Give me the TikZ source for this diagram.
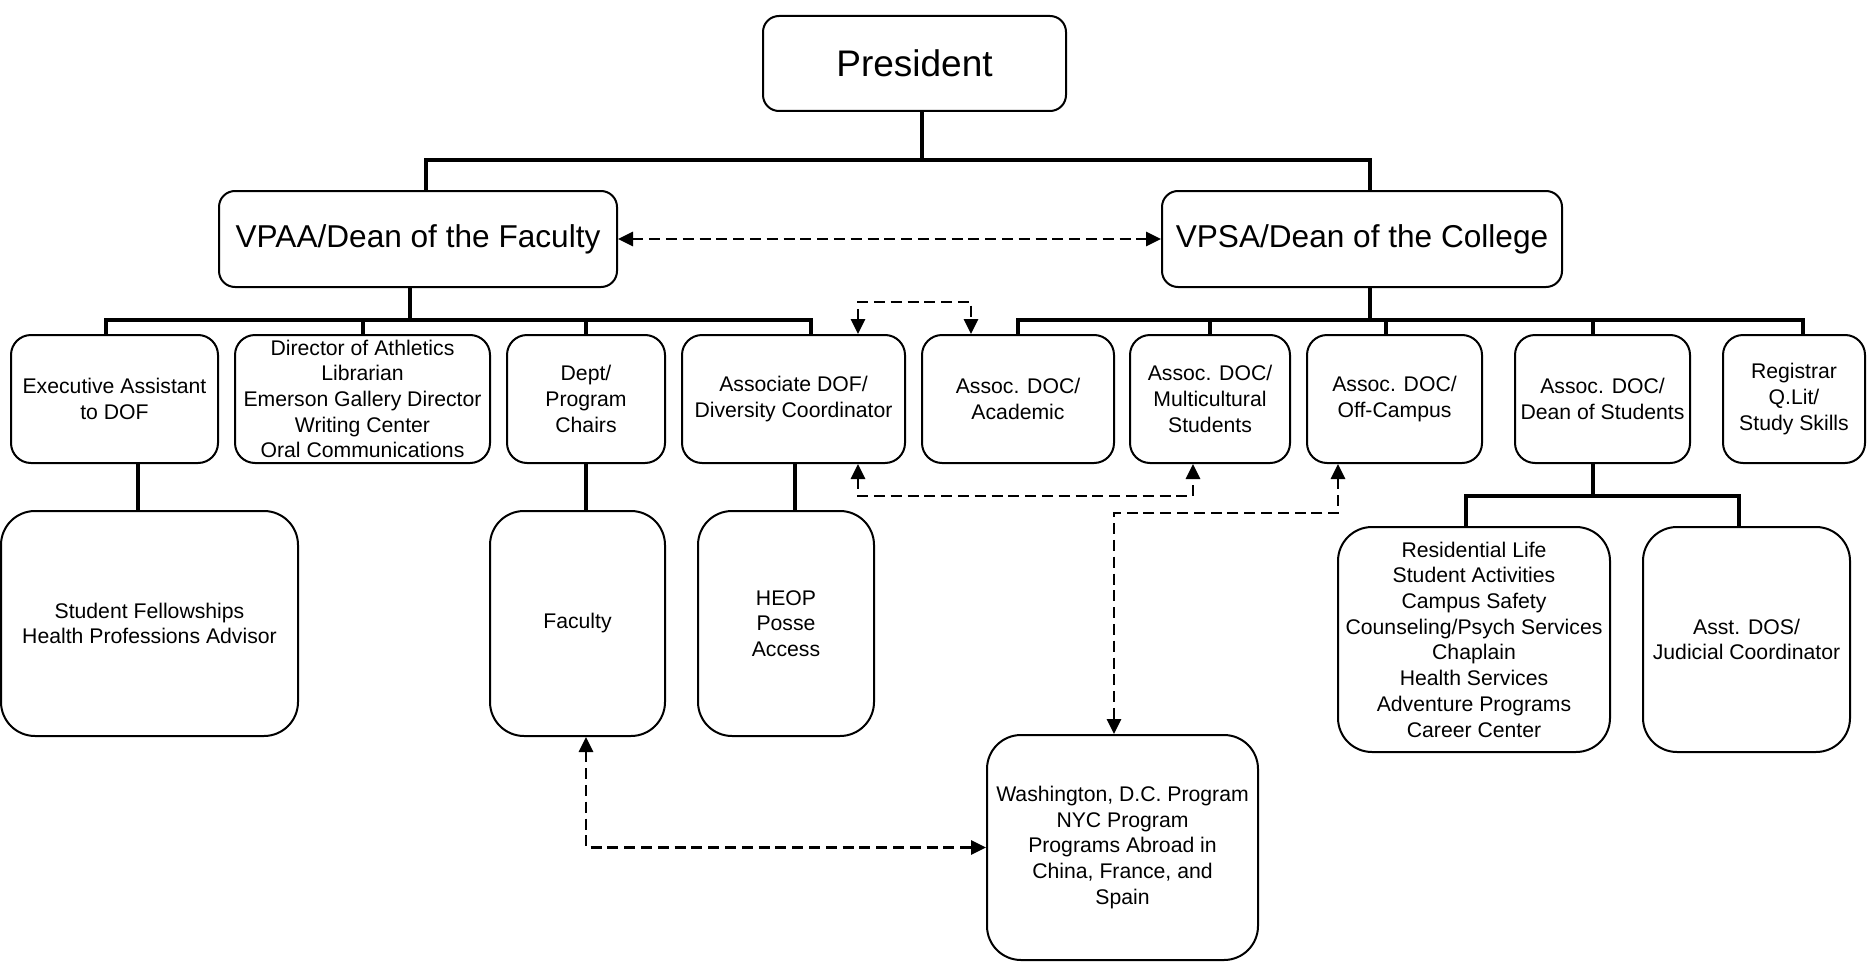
\documentclass[tikz,border=0pt]{standalone}
\usepackage{fontspec}
\setmainfont{Liberation Sans}
\usetikzlibrary{arrows.meta}
\tikzset{
 box/.style={draw, line width=1pt, rounded corners=10pt, inner sep=0pt, align=center, font=\fontsize{10.6}{12.85}\selectfont},
 tall/.style={box, rounded corners=17pt},
 big/.style={box, rounded corners=8pt, font=\fontsize{15.8}{19}\selectfont},
 wh/.style 2 args={minimum width=#1*0.5pt, minimum height=#2*0.5pt},
 bus/.style={line width=2pt},
 dsh/.style={line width=1.4pt, dash pattern=on 5.5pt off 2.9pt, {Triangle[length=7.5pt,width=7pt]}-{Triangle[length=7.5pt,width=7pt]}},
}
\begin{document}
\begin{tikzpicture}[x=0.5pt,y=-0.5pt]
\useasboundingbox (0,0) rectangle (1867,963);
% nodes
\node[big, wh={303}{95}, font=\fontsize{18.5}{22}\selectfont] (pres) at (914.5,63.5) {President};
\node[big, wh={398}{96}] (vpaa) at (418,239) {VPAA/Dean of the Faculty};
\node[big, wh={400}{96}] (vpsa) at (1362,239) {VPSA/Dean of the College};
\node[box, wh={207}{128}] (exec) at (114.5,399) {Executive Assistant\\to DOF};
\node[box, wh={255}{128}] (dir) at (362.5,399) {Director of Athletics\\Librarian\\Emerson Gallery Director\\Writing Center\\Oral Communications};
\node[box, wh={158}{128}] (dept) at (586,399) {Dept/\\Program\\Chairs};
\node[box, wh={223}{128}] (dof) at (793.5,399) {Associate DOF/\\Diversity Coordinator};
\node[box, wh={192}{128}] (acad) at (1018,399) {Assoc. DOC/\\Academic};
\node[box, wh={160}{128}] (multi) at (1210,399) {Assoc. DOC/\\Multicultural\\Students};
\node[box, wh={175}{128}] (off) at (1394.5,399) {Assoc. DOC/\\Off-Campus};
\node[box, wh={175}{128}] (dos) at (1602.5,399) {Assoc. DOC/\\Dean of Students};
\node[box, wh={142}{128}] (reg) at (1794,399) {Registrar\\Q.Lit/\\Study Skills};
\node[tall, wh={297}{225}] (fell) at (149.5,623.5) {Student Fellowships\\Health Professions Advisor};
\node[tall, wh={175}{225}] (fac) at (577.5,623.5) {Faculty};
\node[tall, wh={176}{225}] (heop) at (786,623.5) {HEOP\\Posse\\Access};
\node[tall, wh={271}{225}] (wash) at (1122.5,847.5) {Washington, D.C. Program\\NYC Program\\Programs Abroad in\\China, France, and\\Spain};
\node[tall, wh={272}{225}] (res) at (1474,639.5) {Residential Life\\Student Activities\\Campus Safety\\Counseling/Psych Services\\Chaplain\\Health Services\\Adventure Programs\\Career Center};
\node[tall, wh={207}{225}] (asst) at (1746.5,639.5) {Asst. DOS/\\Judicial Coordinator};
% solid tree connectors
\draw[bus] ([xshift=3.75pt]pres.south) -- ++(0,48) coordinate (t1);
\draw[bus] ([xshift=4pt]vpaa.north) |- (t1) -| ([xshift=4pt]vpsa.north);
\draw[bus] ([xshift=-4pt]vpaa.south) -- ++(0,32) coordinate (t2);
\draw[bus] ([xshift=-4.25pt]exec.north) |- (t2) -| ([xshift=8.75pt]dof.north);
\draw[bus] (dir.north) -- (dir.north |- t2);
\draw[bus] (dept.north) -- (dept.north |- t2);
\draw[bus] ([xshift=4pt]vpsa.south) -- ++(0,32) coordinate (t3);
\draw[bus] (acad.north) |- (t3) -| ([xshift=4.5pt]reg.north);
\draw[bus] (multi.north) -- (multi.north |- t3);
\draw[bus] ([xshift=-4.25pt]off.north) -- ([xshift=-4.25pt]off.north |- t3);
\draw[bus] ([xshift=-4.75pt]dos.north) -- ([xshift=-4.75pt]dos.north |- t3);
\draw[bus] ([xshift=11.75pt]exec.south) -- ([xshift=11.75pt]exec.south |- fell.north);
\draw[bus] (dept.south) -- (dept.south |- fac.north);
\draw[bus] ([xshift=.75pt]dof.south) -- ([xshift=.75pt]dof.south |- heop.north);
\draw[bus] ([xshift=-4.75pt]dos.south) -- ++(0,32) coordinate (t4);
\draw[bus] ([xshift=-4pt]res.north) |- (t4) -| ([xshift=-3.75pt]asst.north);
% dashed links
\draw[dsh] (vpaa.east) -- (vpsa.west);
\draw[dsh] ([xshift=32.25pt]dof.north) -- ++(0,-32) -| ([xshift=-23.5pt]acad.north);
\draw[dsh] ([xshift=32.25pt]dof.south) -- ++(0,32) -| ([xshift=-8.5pt]multi.south);
\draw[dsh] ([xshift=-28.25pt]off.south) -- ++(0,49) -| ([xshift=-4.25pt]wash.north);
\draw[dsh] ([xshift=4.25pt]fac.south) |- (wash.west);
\end{tikzpicture}
\end{document}
